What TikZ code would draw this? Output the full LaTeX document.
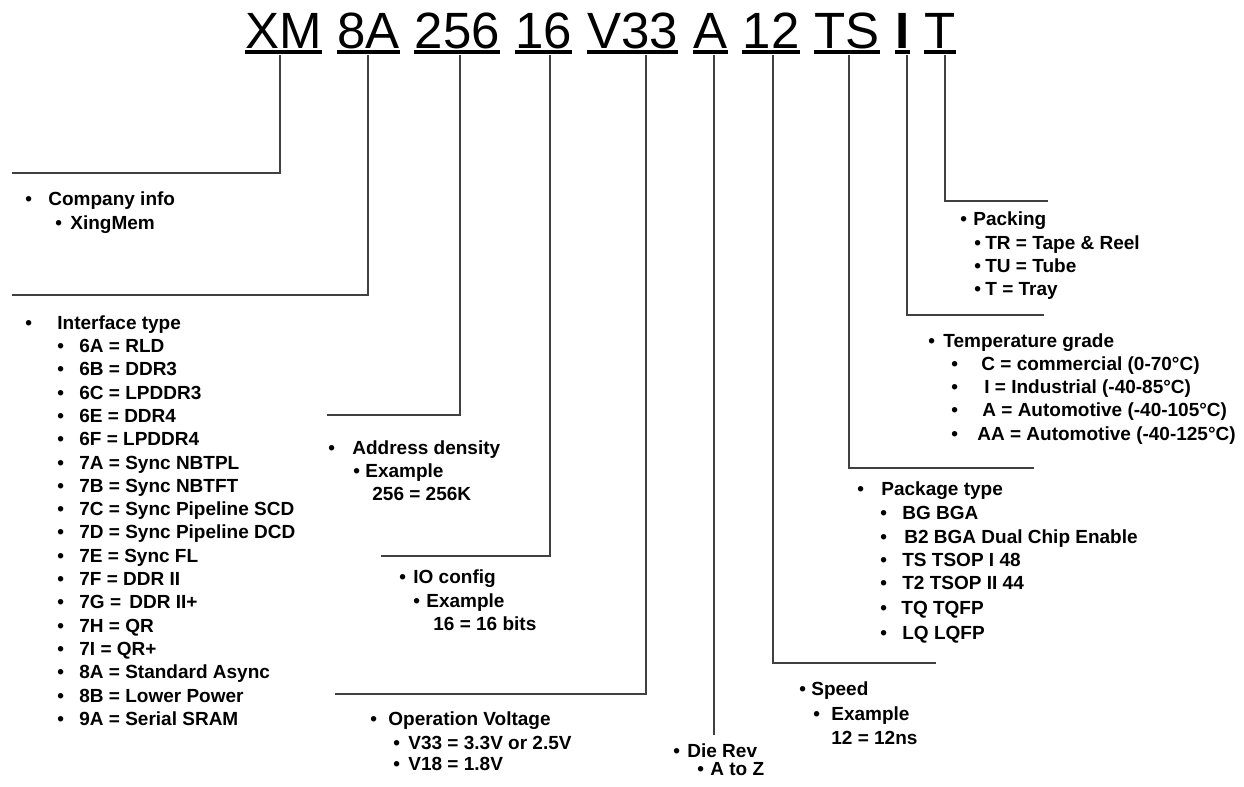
\documentclass[tikz,border=0pt]{standalone}
\usepackage{fontspec}
\setmainfont{Liberation Sans}
\usepackage{xcolor}
\usepackage{tikz}
\usetikzlibrary{positioning}
\definecolor{leadgray}{HTML}{404040}
\newlength\pxu
\setlength\pxu{0.5pt}
\newcommand{\bul}[1]{\makebox[#1\pxu][l]{•}}
\newcommand{\codefont}{\fontsize{25.5pt}{30pt}\selectfont}
\newcommand{\itemfont}{\fontsize{9.5pt}{11pt}\selectfont\bfseries}

\begin{document}
\begin{tikzpicture}[x=0.5pt, y=-0.5pt,
  code/.style={inner sep=0pt, font=\codefont},
  item/.style={anchor=base west, inner sep=0pt, font=\itemfont},
  uline/.style={line width=2pt, black},
  lead/.style={line width=1.4pt, leadgray}]
  \useasboundingbox (0,0) rectangle (1244,787);
  % part number
  \node[code, anchor=base west] (xm) at (245,48) {XM};
  \node[code, right=7.25pt of xm] (iface) {8A};
  \node[code, right=7.25pt of iface] (dens) {256};
  \node[code, right=7.25pt of dens] (io) {16};
  \node[code, right=7.25pt of io] (volt) {V33};
  \node[code, right=7.25pt of volt] (rev) {A};
  \node[code, right=7.25pt of rev] (speed) {12};
  \node[code, right=7.25pt of speed] (pkg) {TS};
  \node[code, right=7.25pt of pkg, font=\codefont\bfseries] (temp) {I};
  \node[code, right=7.25pt of temp] (pack) {T};
  \foreach \n in {xm,iface,dens,io,volt,rev,speed,pkg,temp,pack}
    \draw[uline] ([yshift=-2pt]\n.base west) -- ([yshift=-2pt]\n.base east);
  % leader lines
  \coordinate (xm-t) at (280,55);    \coordinate (xm-e) at (12,173);
  \coordinate (iface-t) at (368,55); \coordinate (iface-e) at (12,295);
  \coordinate (dens-t) at (460,55);  \coordinate (dens-e) at (327,415);
  \coordinate (io-t) at (550,55);    \coordinate (io-e) at (381,556);
  \coordinate (volt-t) at (646,55);  \coordinate (volt-e) at (335,694);
  \coordinate (rev-t) at (714,55);   \coordinate (rev-e) at (714,735);
  \coordinate (speed-t) at (773,55); \coordinate (speed-e) at (936,663);
  \coordinate (pkg-t) at (849,55);   \coordinate (pkg-e) at (1034,468);
  \coordinate (temp-t) at (907,55);  \coordinate (temp-e) at (1044,315);
  \coordinate (pack-t) at (945,55);  \coordinate (pack-e) at (1048,201);
  \draw[lead] (xm-t) |- (xm-e);
  \draw[lead] (iface-t) |- (iface-e);
  \draw[lead] (dens-t) |- (dens-e);
  \draw[lead] (io-t) |- (io-e);
  \draw[lead] (volt-t) |- (volt-e);
  \draw[lead] (rev-t) -- (rev-e);
  \draw[lead] (speed-t) |- (speed-e);
  \draw[lead] (pkg-t) |- (pkg-e);
  \draw[lead] (temp-t) |- (temp-e);
  \draw[lead] (pack-t) |- (pack-e);
  % company
  \node[item] (co) at (25,205) {\bul{23}Company info};
  \node[item] (co1) at (55,229) {\bul{15}XingMem};
  % interface type
  \node[item] (if) at (25,329) {\bul{32}Interface type};
  \node[item] (if1) at (57,352) {\bul{22}6A = RLD};
  \node[item] (if2) at (57,375) {\bul{22}6B = DDR3};
  \node[item] (if3) at (57,399) {\bul{22}6C = LPDDR3};
  \node[item] (if4) at (57,422) {\bul{22}6E = DDR4};
  \node[item] (if5) at (57,445) {\bul{22}6F = LPDDR4};
  \node[item] (if6) at (57,469) {\bul{22}7A = Sync NBTPL};
  \node[item] (if7) at (57,492) {\bul{22}7B = Sync NBTFT};
  \node[item] (if8) at (57,515) {\bul{22}7C = Sync Pipeline SCD};
  \node[item] (if9) at (57,538) {\bul{22}7D = Sync Pipeline DCD};
  \node[item] (if10) at (57,562) {\bul{22}7E = Sync FL};
  \node[item] (if11) at (57,585) {\bul{22}7F = DDR II};
  \node[item] (if12) at (57,608) {\bul{22}7G = \hspace{1.5pt}DDR II+};
  \node[item] (if13) at (57,632) {\bul{22}7H = QR};
  \node[item] (if14) at (57,655) {\bul{22}7I = QR+};
  \node[item] (if15) at (57,678) {\bul{22}8A = Standard Async};
  \node[item] (if16) at (57,702) {\bul{22}8B = Lower Power};
  \node[item] (if17) at (57,725) {\bul{22}9A = Serial SRAM};
  % address density
  \node[item] (ad) at (328,454) {\bul{24}Address density};
  \node[item] (ad1) at (353,477) {\bul{12}Example};
  \node[item] (ad2) at (372,500) {256 = 256K};
  % io config
  \node[item] (ioc) at (399,583) {\bul{14}IO config};
  \node[item] (ioc1) at (413,607) {\bul{13}Example};
  \node[item] (ioc2) at (433,630) {16 = 16 bits};
  % operation voltage
  \node[item] (ov) at (370,725) {\bul{18}Operation Voltage};
  \node[item] (ov1) at (393,749) {\bul{15}V33 = 3.3V or 2.5V};
  \node[item] (ov2) at (393,770) {\bul{15}V18 = 1.8V};
  % die rev
  \node[item] (dr) at (673,757) {\bul{14}Die Rev};
  \node[item] (dr1) at (697,775) {\bul{13}A to Z};
  % speed
  \node[item] (sp) at (799,695) {\bul{12}Speed};
  \node[item] (sp1) at (813,720) {\bul{18}Example};
  \node[item] (sp2) at (831,744) {12 = 12ns};
  % package type
  \node[item] (pt) at (857,495) {\bul{24}Package type};
  \node[item] (pt1) at (880,519) {\bul{22}BG BGA};
  \node[item] (pt2) at (880,543) {\bul{24}B2 BGA Dual Chip Enable};
  \node[item] (pt3) at (880,566) {\bul{22}TS TSOP I 48};
  \node[item] (pt4) at (880,589) {\bul{22}T2 TSOP II 44};
  \node[item] (pt5) at (880,614) {\bul{21}TQ TQFP};
  \node[item] (pt6) at (880,639) {\bul{22}LQ LQFP};
  % temperature grade
  \node[item] (tg) at (928,347) {\bul{15}Temperature grade};
  \node[item] (tg1) at (951,370) {\bul{30}C = commercial (0-70°C)};
  \node[item] (tg2) at (951,393) {\bul{33}I = Industrial (-40-85°C)};
  \node[item] (tg3) at (951,416) {\bul{31}A = Automotive (-40-105°C)};
  \node[item] (tg4) at (951,440) {\bul{26}AA = Automotive (-40-125°C)};
  % packing
  \node[item] (pk) at (960,225) {\bul{13}Packing};
  \node[item] (pk1) at (974,249) {\bul{11}TR = Tape \& Reel};
  \node[item] (pk2) at (974,272) {\bul{11}TU = Tube};
  \node[item] (pk3) at (974,295) {\bul{11}T = Tray};
\end{tikzpicture}
\end{document}
